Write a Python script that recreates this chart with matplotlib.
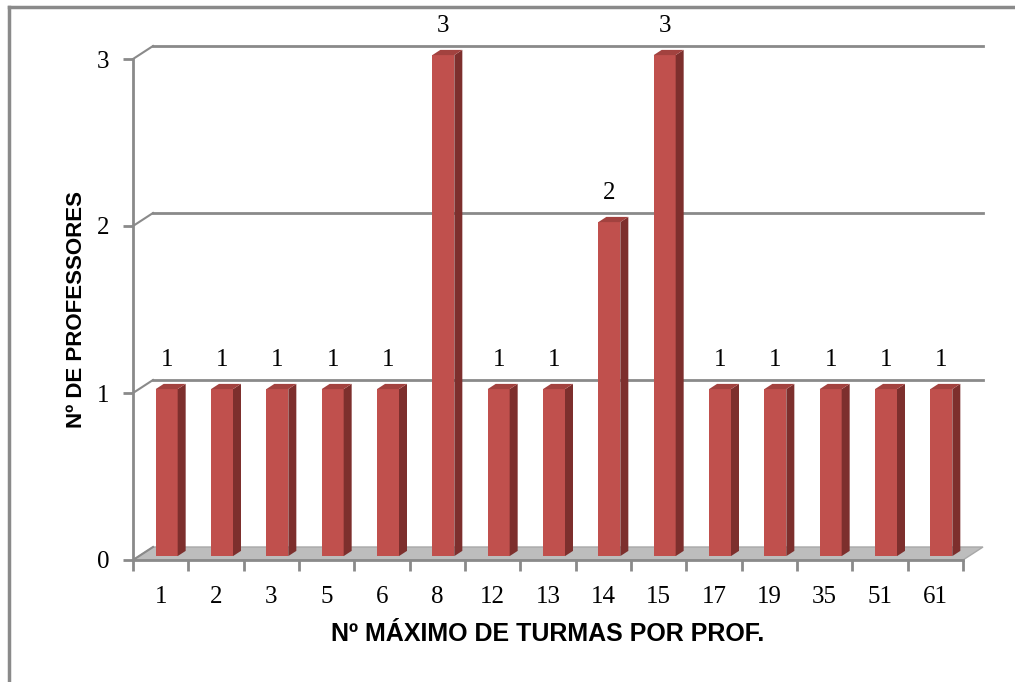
import matplotlib
matplotlib.use("Agg")
import matplotlib.pyplot as plt
from matplotlib.patches import Rectangle, Polygon
from matplotlib.lines import Line2D

# data
categorias = ["1", "2", "3", "5", "6", "8", "12", "13", "14", "15", "17", "19", "35", "51", "61"]
professores = [1, 1, 1, 1, 1, 3, 1, 1, 2, 3, 1, 1, 1, 1, 1]
yticks = [0, 1, 2, 3]

xlabel = "Nº MÁXIMO DE TURMAS POR PROF."
ylabel = "Nº DE PROFESSORES"

# colours
frente = "#C0504D"
lado = "#7D2F2D"
topo = "#A2423F"
cinza = "#8A8A8A"
chao = "#BDBDBD"

W, H, DPI = 1015, 682, 100
fig = plt.figure(figsize=(W / DPI, H / DPI), dpi=DPI)
ax = fig.add_axes([133 / W, 122 / H, 830 / W, 501 / H])

n = len(categorias)
ax.set_xlim(-0.5, n - 0.5)
ax.set_ylim(0, 3)

# pixel -> data scale
px_x = n / 830.0
px_y = 3 / 501.0

# depth of the 3d box (px), bar front/back depth fractions
Dx, Dy = 20 * px_x, 13 * px_y
fx, fy = 0.3 * Dx, 0.3 * Dy
bx, by = 0.7 * Dx, 0.7 * Dy
w = 22 * px_x

x0, x1 = -0.5, n - 0.5

# floor
ax.add_patch(Polygon([(x0, 0), (x1, 0), (x1 + Dx, Dy), (x0 + Dx, Dy)],
                     closed=True, facecolor=chao, edgecolor="#A8A8A8", lw=1,
                     clip_on=False, zorder=1))

# back wall grid + side diagonals
for yv in yticks:
    if yv > 0:
        ax.add_line(Line2D([x0 + Dx, x1 + Dx], [yv + Dy, yv + Dy], color=cinza,
                           lw=2, clip_on=False, zorder=1))
    ax.add_line(Line2D([x0, x0 + Dx], [yv, yv + Dy], color=cinza, lw=1.5,
                       clip_on=False, zorder=1))

# bars
for i, v in enumerate(professores):
    l, r = i - w / 2, i + w / 2
    ax.add_patch(Rectangle((l + fx, fy), w, v, facecolor=frente,
                           edgecolor="none", clip_on=False, zorder=3))
    ax.add_patch(Polygon([(r + fx, fy), (r + bx, by), (r + bx, v + by), (r + fx, v + fy)],
                         closed=True, facecolor=lado, edgecolor="none",
                         clip_on=False, zorder=3))
    ax.add_patch(Polygon([(l + fx, v + fy), (r + fx, v + fy), (r + bx, v + by), (l + bx, v + by)],
                         closed=True, facecolor=topo, edgecolor="none",
                         clip_on=False, zorder=3))
    ax.annotate(str(v), (i + fx, v), xytext=(0, 24), textcoords="offset points",
                ha="center", va="center", fontsize=18, family="Liberation Serif",
                annotation_clip=False)

# axes
for s in ["top", "right"]:
    ax.spines[s].set_visible(False)
for s in ["left", "bottom"]:
    ax.spines[s].set_color(cinza)
    ax.spines[s].set_linewidth(2)

ax.set_yticks(yticks)
ax.set_yticklabels([str(t) for t in yticks], fontsize=18, family="Liberation Serif")
ax.tick_params(axis="y", length=7, width=2, color=cinza, pad=10)

ax.set_xticks(range(n))
ax.set_xticklabels(categorias, fontsize=18, family="Liberation Serif")
ax.set_xticks([k - 0.5 for k in range(n + 1)], minor=True)
ax.tick_params(axis="x", which="major", length=0, pad=19)
ax.tick_params(axis="x", which="minor", length=8, width=2, color=cinza)

ax.set_xlabel(xlabel, fontsize=18, fontweight="bold", family="Liberation Sans", labelpad=10)
ax.set_ylabel(ylabel, fontsize=16, fontweight="bold", family="Liberation Sans", labelpad=7)
ax.patch.set_visible(False)

# outer frame (top and left only visible in the crop)
fig.add_artist(Line2D([9 / W, 9 / W], [0, 1 - 7 / H], color=cinza, lw=2.5))
fig.add_artist(Line2D([9 / W, 1], [1 - 7 / H, 1 - 7 / H], color=cinza, lw=2.5))

fig.savefig("out.png", dpi=DPI)
